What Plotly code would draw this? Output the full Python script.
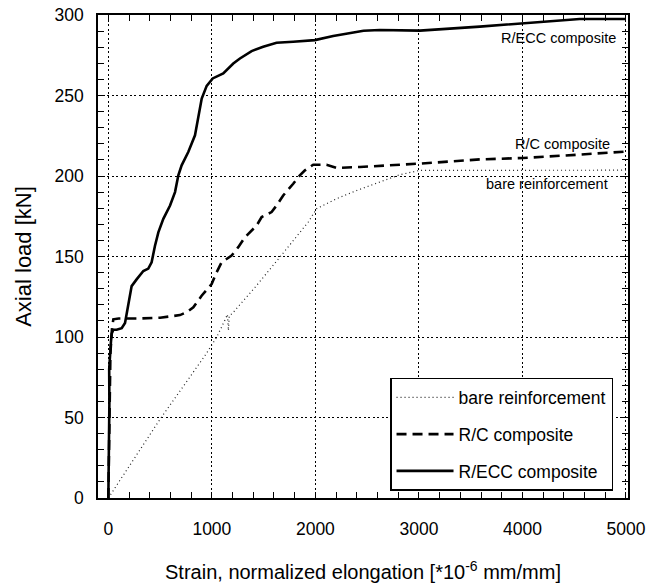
import plotly.graph_objects as go

# ---- data ----
ecc_x = [0, 5, 3, 10, 8, 15, 25, 32, 48, 80, 129, 161, 193, 225, 273, 338, 386, 418, 450, 483, 531,
         596, 644, 676, 708, 772, 837, 869, 902, 950, 1008, 1110, 1207, 1271, 1384, 1496, 1625,
         1786, 1995, 2172, 2333, 2465, 2623, 3009, 3588, 4006, 4553, 5000]
ecc_y = [0, 20, 40, 60, 80, 92, 97, 102, 104.5, 104.5, 105.5, 108.7, 119, 131.6, 135.8, 141, 142.5,
         146.4, 156.5, 165, 173.4, 181.7, 190, 200.4, 206.6, 214.9, 225.3, 237.7, 248.1, 256, 260.6,
         263.7, 269.9, 273, 277.6, 280.3, 282.8, 283.4, 284.4, 286.9, 288.6, 290.2, 290.7, 290.3,
         292.8, 294.8, 297.5, 297.5]

rc_x = [0, 5, 10, 20, 35, 48, 100, 300, 500, 692, 760, 821, 901, 998, 1046, 1094, 1191, 1255, 1320,
        1432, 1481, 1577, 1625, 1689, 1786, 1850, 1899, 1979, 2108, 2205, 2430, 2751, 3009, 3588,
        4006, 4553, 5000]
rc_y = [0, 30, 60, 90, 105, 111, 111.5, 111.5, 112, 113.6, 115.5, 118.4, 125.6, 132.9, 140.2, 146.4,
        150.6, 155.8, 162, 169.2, 174.5, 177.6, 181.7, 187.9, 195.2, 200.4, 203.5, 207, 207, 205,
        205.6, 206.6, 207.7, 210.3, 211.2, 213.3, 215.2]

bare_x = [0, 499, 933, 1046, 1130, 1150, 1160, 1168, 1207, 1432, 1657, 1818, 1931, 2012, 2205, 2398,
          2623, 2816, 3009, 4000, 5000]
bare_y = [0, 48.9, 88.4, 99.8, 111, 114, 104, 113, 115.3, 132, 149.6, 162, 171.4, 179.7, 185.9,
          191, 196.3, 200.8, 203.5, 203.6, 203.6]

series_names = ["bare reinforcement", "R/C composite", "R/ECC composite"]
x_ticks = [0, 1000, 2000, 3000, 4000, 5000]
y_ticks = [0, 50, 100, 150, 200, 250, 300]

# in-plot curve labels (text, x, y)
label_text = ["R/ECC composite", "R/C composite", "bare reinforcement"]
label_x = [4920, 4870, 4843]
label_y = [285.5, 220, 195]

FONT = "Liberation Sans, Arial, sans-serif"

fig = go.Figure()
fig.add_trace(go.Scatter(x=bare_x, y=bare_y, mode="lines", name=series_names[0],
                         legendgroup="a",
                         line=dict(color="#222222", width=1.2, dash="1px,3px")))
fig.add_trace(go.Scatter(x=rc_x, y=rc_y, mode="lines", name=series_names[1],
                         legendgroup="b",
                         line=dict(color="black", width=2.6, dash="10px,6px")))
fig.add_trace(go.Scatter(x=ecc_x, y=ecc_y, mode="lines", name=series_names[2],
                         legendgroup="c",
                         line=dict(color="black", width=2.6)))

for t, xv, yv in zip(label_text, label_x, label_y):
    fig.add_annotation(x=xv, y=yv, text=t, showarrow=False, xanchor="right", yanchor="middle",
                       font=dict(family=FONT, size=14.5, color="black"))

axis_common = dict(
    showline=True, linecolor="black", linewidth=1.5, mirror="ticks",
    ticks="inside", ticklen=6, tickwidth=1.2, tickcolor="black",
    showgrid=True, gridcolor="black", gridwidth=1.2, griddash="2px,2.5px",
    zeroline=False,
    tickfont=dict(family=FONT, size=17.5, color="black"),
)

fig.update_xaxes(
    range=[-100, 5020], tickvals=x_ticks, ticktext=[str(v) for v in x_ticks],
    minor=dict(dtick=200, tick0=0, ticks="inside", ticklen=6, tickwidth=1.2, tickcolor="black",
               showgrid=False),
    ticklabelstandoff=14,
    title=dict(text="Strain, normalized elongation [*10<sup>-6</sup> mm/mm]",
               font=dict(family=FONT, size=20, color="black"), standoff=28),
    **axis_common,
)
fig.update_yaxes(
    range=[0, 300], tickvals=y_ticks, ticktext=[str(v) for v in y_ticks],
    minor=dict(dtick=10, tick0=0, ticks="inside", ticklen=6, tickwidth=1.2, tickcolor="black",
               showgrid=False),
    ticklabelstandoff=9,
    title=dict(text="Axial load [kN]", font=dict(family=FONT, size=22, color="black"),
               standoff=17),
    **axis_common,
)

fig.update_layout(
    width=663, height=583,
    margin=dict(l=98, r=35, t=15, b=85, autoexpand=False),
    paper_bgcolor="white", plot_bgcolor="white",
    font=dict(family=FONT, color="black"),
    showlegend=True,
    legend=dict(
        x=0.551, y=0.2485, xanchor="left", yanchor="top",
        bgcolor="white", bordercolor="black", borderwidth=1.5,
        font=dict(family=FONT, size=17.5, color="black"),
        traceorder="grouped", tracegroupgap=11, itemwidth=57,
    ),
)

fig.write_html("out.html")
